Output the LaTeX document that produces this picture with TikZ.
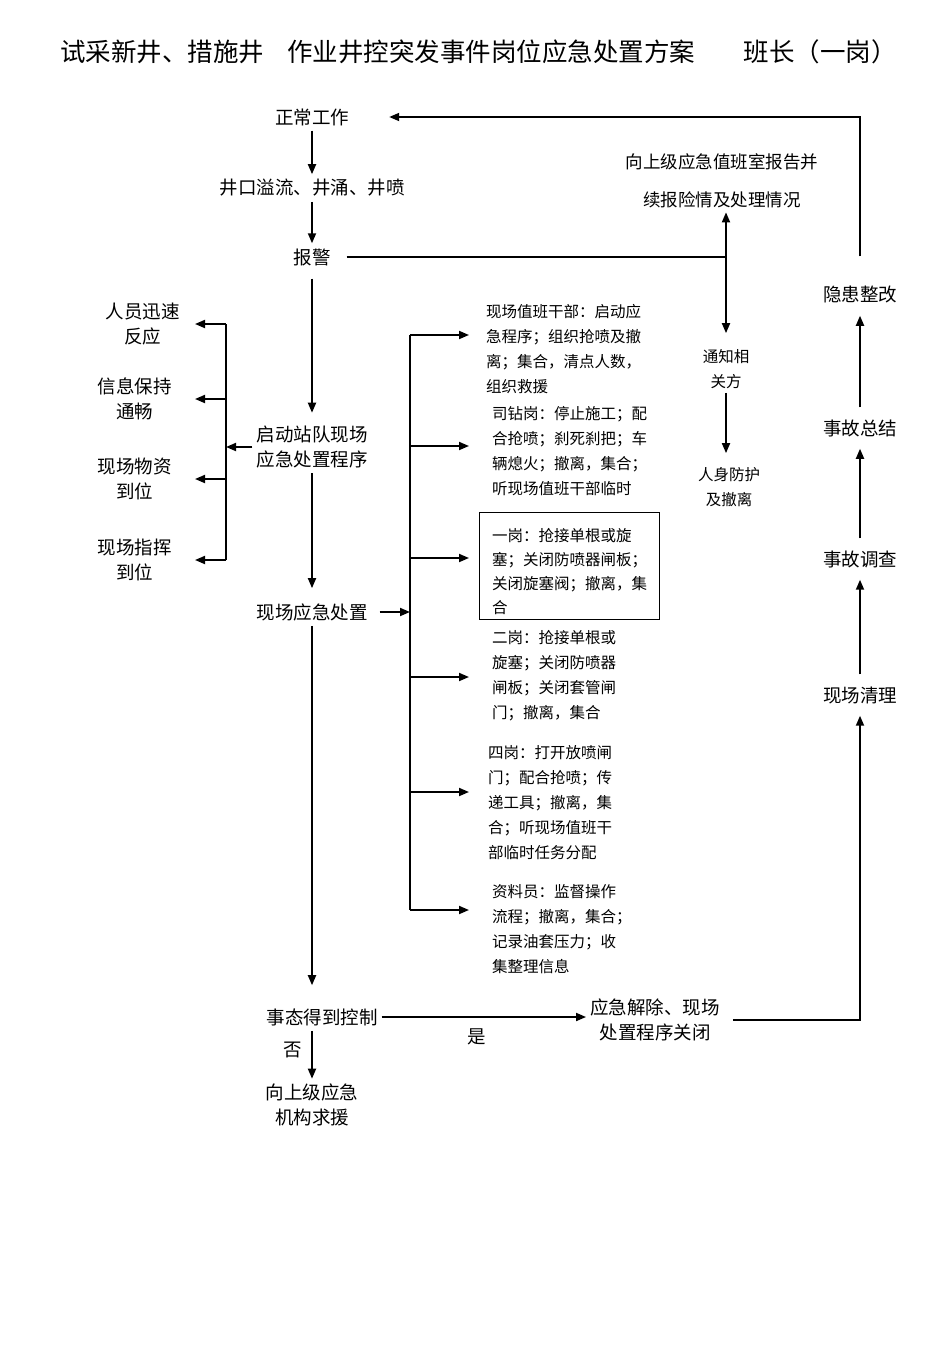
\documentclass[tikz,border=0pt]{standalone}
\usepackage{fontspec}
\setmainfont{Noto Sans CJK SC}
\usepackage{tikz}
\usetikzlibrary{arrows.meta,positioning}

\begin{document}
\begin{tikzpicture}[
    x=1pt, y=-1pt,
    stage/.style={
        align=center, inner xsep=4pt, inner ysep=5pt,
        font=\fontsize{18.5}{25}\selectfont
    },
    review/.style={stage, inner ysep=12pt},
    side/.style={
        align=center, inner sep=4pt,
        font=\fontsize{15.5}{25}\selectfont
    },
    duty/.style={
        anchor=north west, align=left, inner sep=0pt,
        font=\fontsize{15.5}{25}\selectfont
    },
    arrow/.style={-{Triangle[length=10pt,width=8pt]}, line width=1.8pt},
    link/.style={line width=1.8pt}
]
\useasboundingbox (0,0) rectangle (950,1346);

% Title
\node[anchor=west, inner sep=0pt, font=\fontsize{25.5}{30}\selectfont] (title) at (60,52)
    {试采新井、措施井\hspace{0.9em}作业井控突发事件岗位应急处置方案\hspace{1.9em}班长（一岗）};

% Main column
\node[stage] (normal) at (312,117) {正常工作};
\node[stage] (well) at (312,188) {井口溢流、井涌、井喷};
\node[stage] (alarm) at (312,257) {报警};
\node[stage] (start) at (312,447) {启动站队现场\\应急处置程序};
\node[stage] (onsite) at (312,612) {现场应急处置};
\node[stage] (ctrl) at (322,1017) {事态得到控制};
\node[stage] (no) at (293,1050) {否};
\node[stage] (help) at (312,1105) {向上级应急\\机构求援};

% Reporting branch
\node[side, font=\fontsize{17.5}{38}\selectfont] (report) at (722,181) {向上级应急值班室报告并\\续报险情及处理情况};
\node[side] (notify) at (726,369) {通知相\\关方};
\node[side] (protect) at (729,487) {人身防护\\及撤离};

% Left group
\node[stage] (crew) at (142.5,324) {人员迅速\\反应};
\node[stage] (info) at (134.5,399) {信息保持\\通畅};
\node[stage] (supply) at (134.5,479) {现场物资\\到位};
\node[stage] (command) at (134.5,560) {现场指挥\\到位};

% Post duties
\node[duty] (leader) at (486,304) {现场值班干部：启动应\\急程序；组织抢喷及撤\\离；集合，清点人数，\\组织救援};
\node[duty] (driller) at (492,406) {司钻岗：停止施工；配\\合抢喷；刹死刹把；车\\辆熄火；撤离，集合；\\听现场值班干部临时};
\node[duty, font=\fontsize{15.5}{24}\selectfont] (post1) at (492,528) {一岗：抢接单根或旋\\塞；关闭防喷器闸板；\\关闭旋塞阀；撤离，集\\合};
\node[duty] (post2) at (492,630) {二岗：抢接单根或\\旋塞；关闭防喷器\\闸板；关闭套管闸\\门；撤离，集合};
\node[duty] (post4) at (488,745) {四岗：打开放喷闸\\门；配合抢喷；传\\递工具；撤离，集\\合；听现场值班干\\部临时任务分配};
\node[duty] (clerk) at (492,884) {资料员：监督操作\\流程；撤离，集合；\\记录油套压力；收\\集整理信息};
\draw[line width=0.8pt] ([xshift=-13pt,yshift=15.5pt]post1.north west) rectangle ([xshift=12pt,yshift=-5pt]post1.south east);

% Closing and review
\node[stage] (release) at (655,1020) {应急解除、现场\\处置程序关闭};
\node[stage] (yes) at (477,1037) {是};
\node[review] (tidy) at (860,695) {现场清理};
\node[review] (investigate) at (860,559) {事故调查};
\node[review] (summary) at (860,428) {事故总结};
\node[review] (rectify) at (860,295) {隐患整改};

% Branch points
\coordinate (fork) at (726,257);
\coordinate (brL) at (226,447);
\coordinate (tipL) at (195,447);
\coordinate (brR) at (410,612);
\coordinate (to1) at (469,335);
\coordinate (to2) at (469,446);
\coordinate (to3) at (469,558);
\coordinate (to4) at (469,677);
\coordinate (to5) at (469,792);
\coordinate (to6) at (469,910);

% Arrows
\draw[arrow] (normal) -- (well);
\draw[arrow] (well) -- (alarm);
\draw[arrow, shorten <=8pt, shorten >=8pt] (alarm) -- (start);
\draw[arrow, shorten >=10pt] (start) -- (onsite);
\draw[arrow, shorten >=18pt] (onsite) -- (onsite |- ctrl.north);
\draw[arrow] (ctrl.south -| help) -- (help);

\draw[link, shorten <=12pt] (alarm.east) -- (fork);
\draw[arrow] (fork) -- (fork |- report.south);
\draw[arrow] (fork) -- ([yshift=12pt]notify.north);
\draw[arrow, shorten >=10pt] (notify.south) -- (notify.south |- protect.north);

\draw[arrow] (start) -- (brL);
\draw[link] (crew -| brL) -- (command -| brL);
\draw[arrow] (crew -| brL) -- (crew -| tipL);
\draw[arrow] (info -| brL) -- (info -| tipL);
\draw[arrow] (supply -| brL) -- (supply -| tipL);
\draw[arrow] (command -| brL) -- (command -| tipL);

\draw[arrow, shorten <=8pt] (onsite) -- (brR);
\draw[link] (to1 -| brR) -- (to6 -| brR);
\draw[arrow] (to1 -| brR) -- (to1);
\draw[arrow] (to2 -| brR) -- (to2);
\draw[arrow] (to3 -| brR) -- (to3);
\draw[arrow] (to4 -| brR) -- (to4);
\draw[arrow] (to5 -| brR) -- (to5);
\draw[arrow] (to6 -| brR) -- (to6);

\draw[arrow] (ctrl.east) -- (ctrl.east -| release.west);
\draw[arrow, shorten <=9pt] (release.east) -| (tidy);
\draw[arrow] (tidy) -- (investigate);
\draw[arrow] (investigate) -- (summary);
\draw[arrow] (summary) -- (rectify);
\draw[arrow, shorten >=36pt] ([yshift=18pt]rectify.north) |- (normal);

\end{tikzpicture}
\end{document}
